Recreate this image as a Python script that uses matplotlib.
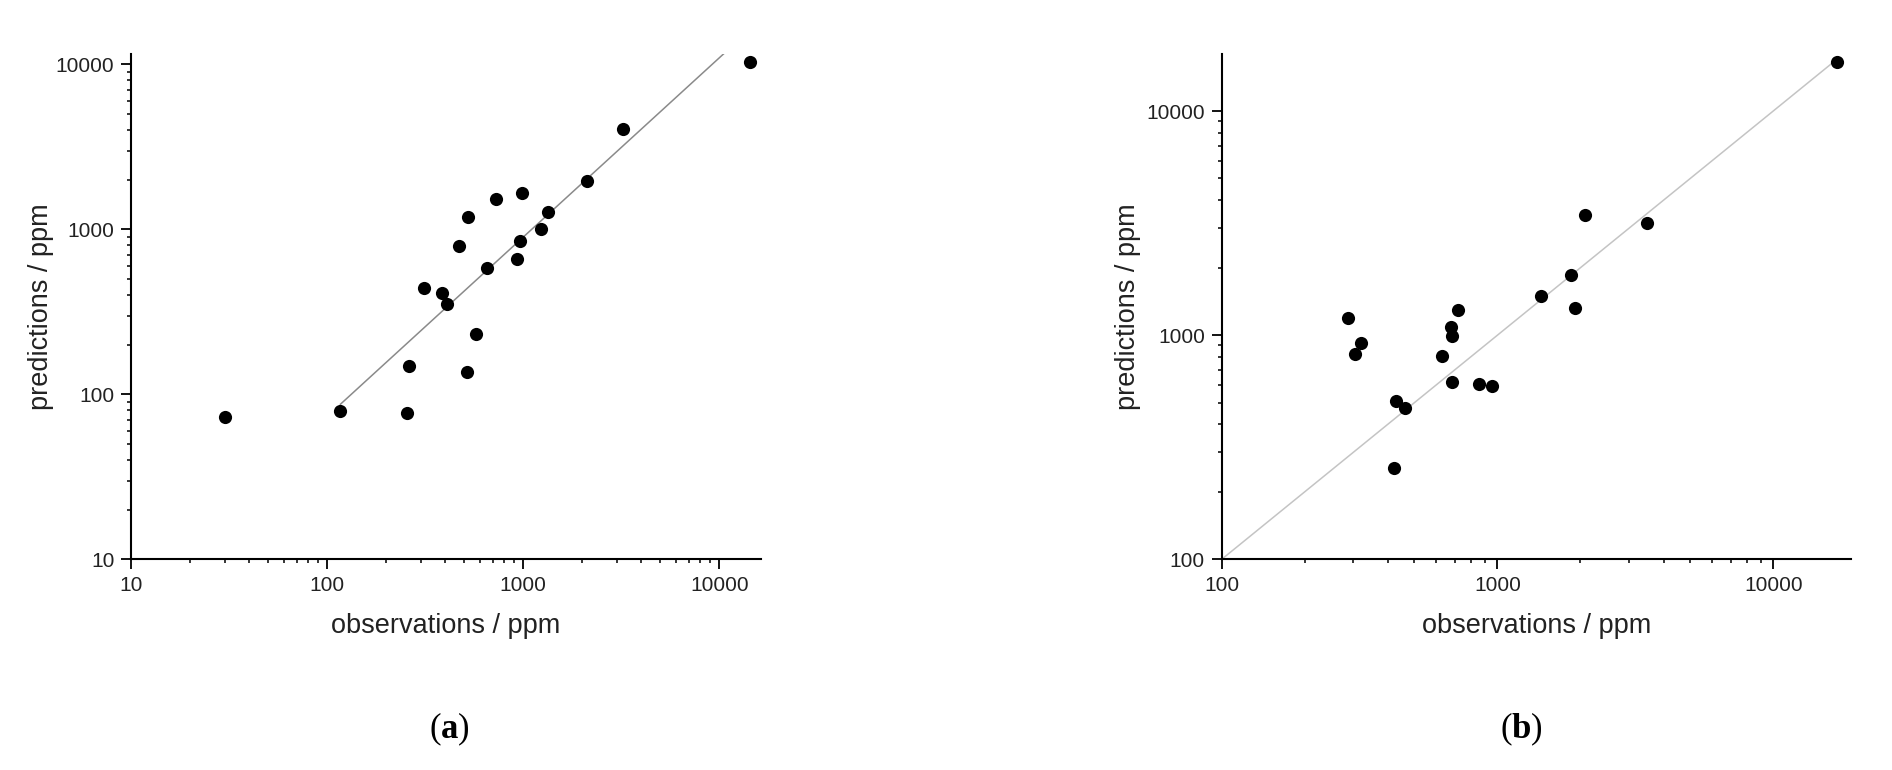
import numpy as np
import matplotlib.pyplot as plt
from matplotlib.ticker import FixedLocator, FuncFormatter, NullFormatter

# panel (a): observations vs predictions, ppm
obs_a = [30, 117, 255, 263, 515, 573, 313, 385, 410, 472, 522, 729, 652,
         931, 965, 989, 1236, 1333, 2104, 3243, 14300]
pred_a = [73, 79, 77, 149, 136, 233, 443, 414, 352, 794, 1190, 1524, 587,
          659, 855, 1652, 1004, 1274, 1959, 4074, 10400]
# fitted line of panel (a), in log10 space
fit_a_slope = 1.087
fit_a_intercept = -0.308
fit_a_xrange = [117, 16300]

# panel (b)
obs_b = [286, 305, 321, 427, 462, 422, 631, 679, 687, 717, 682, 855, 957,
         1436, 1854, 1909, 2080, 3483, 16990]
pred_b = [1190, 820, 923, 508, 475, 256, 807, 1084, 990, 1297, 618, 603, 596,
          1500, 1862, 1318, 3450, 3160, 16500]
# 1:1 line of panel (b)
ident_b = [100, 17000]

plt.rcParams['font.family'] = ['Liberation Sans', 'DejaVu Sans']
plt.rcParams['mathtext.fontset'] = 'custom'
plt.rcParams['mathtext.rm'] = 'Liberation Serif'
plt.rcParams['mathtext.bf'] = 'Liberation Serif:bold'

fig = plt.figure(figsize=(18.92, 7.7), dpi=100)
ax_a = fig.add_axes([0.0692, 0.2736, 0.3330, 0.6562])
ax_b = fig.add_axes([0.6457, 0.2736, 0.3326, 0.6562])


def style_axis(ax, xlim, ylim, majors_x, majors_y):
    ax.set_xscale('log')
    ax.set_yscale('log')
    ax.set_xlim(*xlim)
    ax.set_ylim(*ylim)
    minors = [m * 10.0 ** e for e in range(0, 6) for m in range(2, 10)]
    ax.xaxis.set_major_locator(FixedLocator(majors_x))
    ax.yaxis.set_major_locator(FixedLocator(majors_y))
    ax.xaxis.set_minor_locator(FixedLocator(minors))
    ax.yaxis.set_minor_locator(FixedLocator(minors))
    fmt = FuncFormatter(lambda v, p: '%d' % round(v))
    ax.xaxis.set_major_formatter(fmt)
    ax.yaxis.set_major_formatter(fmt)
    ax.xaxis.set_minor_formatter(NullFormatter())
    ax.yaxis.set_minor_formatter(NullFormatter())
    for s in ['top', 'right']:
        ax.spines[s].set_visible(False)
    for s in ['left', 'bottom']:
        ax.spines[s].set_linewidth(1.5)
    ax.tick_params(which='major', direction='out', length=7, width=1.3,
                   labelsize=15, pad=5, color='black', labelcolor='#222222')
    ax.tick_params(which='minor', direction='out', length=3.2, width=1.1)
    ax.set_xlabel('observations / ppm', fontsize=19.5, color='#222222',
                  va='center')
    ax.set_ylabel('predictions / ppm', fontsize=19.5, color='#222222',
                  va='center')


# (a)
xs = np.array(fit_a_xrange, dtype=float)
ax_a.plot(xs, 10 ** (fit_a_slope * np.log10(xs) + fit_a_intercept),
          color='#8a8a8a', lw=1.1, zorder=1)
ax_a.scatter(obs_a, pred_a, s=90, color='black', zorder=3, linewidths=0)
style_axis(ax_a, (10, 16300), (10, 11550), [10, 100, 1000, 10000],
           [10, 100, 1000, 10000])
ax_a.xaxis.set_label_coords(0.5, -0.132)
ax_a.yaxis.set_label_coords(-0.143, 0.5)

# (b)
ax_b.plot(ident_b, ident_b, color='#c4c4c4', lw=1.1, zorder=1)
ax_b.scatter(obs_b, pred_b, s=90, color='black', zorder=3, linewidths=0)
style_axis(ax_b, (100, 19130), (100, 17950), [100, 1000, 10000],
           [100, 1000, 10000])
ax_b.xaxis.set_label_coords(0.5, -0.132)
ax_b.yaxis.set_label_coords(-0.149, 0.5)

fig.text(0.2378, 0.053, r'($\mathbf{a}$)', ha='center', va='center',
         fontsize=25, family='Liberation Serif')
fig.text(0.8039, 0.053, r'($\mathbf{b}$)', ha='center', va='center',
         fontsize=25, family='Liberation Serif')

plt.savefig('out.png', dpi=100)
